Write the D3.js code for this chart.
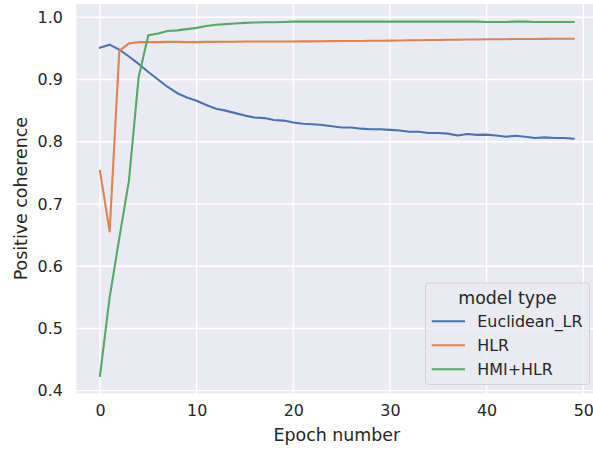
<!DOCTYPE html>
<html>
<head>
<meta charset="utf-8">
<script src="https://cdn.jsdelivr.net/npm/d3@7"></script>
<style>
  body { margin: 0; background: #fff; }
  svg { display: block; font-family: "DejaVu Sans", sans-serif; }
</style>
</head>
<body>
<svg id="chart" width="593" height="450"></svg>
<script>
const epochs = d3.range(0, 50);
const seriesNames = ["Euclidean_LR", "HLR", "HMI+HLR"];
const euclideanLR = [0.951, 0.956, 0.948, 0.937, 0.925, 0.912, 0.900, 0.888, 0.878, 0.871,
  0.866, 0.859, 0.853, 0.850, 0.846, 0.842, 0.839, 0.838, 0.835, 0.834,
  0.831, 0.829, 0.828, 0.827, 0.825, 0.823, 0.823, 0.821, 0.820, 0.820,
  0.819, 0.818, 0.816, 0.816, 0.814, 0.814, 0.813, 0.810, 0.8125, 0.811,
  0.8115, 0.810, 0.808, 0.8095, 0.808, 0.806, 0.807, 0.806, 0.806, 0.805];
const hlr = [0.753, 0.656, 0.946, 0.958, 0.960, 0.960, 0.960, 0.9605, 0.9605, 0.960,
  0.960, 0.9605, 0.9605, 0.9607, 0.9607, 0.961, 0.961, 0.961, 0.961, 0.9612,
  0.9612, 0.9613, 0.9613, 0.9615, 0.9617, 0.9618, 0.962, 0.962, 0.9622, 0.9624,
  0.9625, 0.9627, 0.963, 0.9632, 0.9634, 0.9636, 0.9638, 0.964, 0.9642, 0.9644,
  0.9646, 0.9647, 0.9648, 0.965, 0.9651, 0.9652, 0.9653, 0.9654, 0.9655, 0.9656];
const hmiHlr = [0.424, 0.550, 0.645, 0.738, 0.904, 0.971, 0.974, 0.978, 0.979, 0.981,
  0.983, 0.986, 0.988, 0.989, 0.990, 0.991, 0.9915, 0.992, 0.992, 0.9925,
  0.993, 0.993, 0.993, 0.993, 0.993, 0.993, 0.993, 0.993, 0.993, 0.993,
  0.993, 0.993, 0.993, 0.993, 0.993, 0.993, 0.993, 0.993, 0.993, 0.993,
  0.9925, 0.9925, 0.9925, 0.993, 0.993, 0.9925, 0.9925, 0.9925, 0.9925, 0.9925];
const xTicks = [0, 10, 20, 30, 40, 50];
const yTicks = [0.4, 0.5, 0.6, 0.7, 0.8, 0.9, 1.0];
const colors = ["#4C72B0", "#DD8452", "#55A868"];
const allSeries = [euclideanLR, hlr, hmiHlr];

const svg = d3.select("#chart");
const x = d3.scaleLinear().domain([-2.45, 51.45]).range([76.3, 597.3]);
const y = d3.scaleLinear().domain([0.3956, 1.0215]).range([393.4, 3.9]);

const textColor = "#262626";
const tickFont = "15.9px", labelFont = "17.4px";

// background
svg.append("rect")
  .attr("x", x.range()[0]).attr("y", y.range()[1])
  .attr("width", x.range()[1] - x.range()[0])
  .attr("height", y.range()[0] - y.range()[1])
  .attr("fill", "#EAEAF2");

// grid
const gridG = svg.append("g");
gridG.selectAll("line.v").data(xTicks).join("line")
  .attr("x1", d => x(d)).attr("x2", d => x(d))
  .attr("y1", y.range()[1]).attr("y2", y.range()[0])
  .attr("stroke", "#fff").attr("stroke-width", 1.4);
gridG.selectAll("line.h").data(yTicks).join("line")
  .attr("y1", d => y(d)).attr("y2", d => y(d))
  .attr("x1", x.range()[0]).attr("x2", x.range()[1])
  .attr("stroke", "#fff").attr("stroke-width", 1.4);

// axes (tick labels only)
const xAxis = d3.axisBottom(x).tickValues(xTicks).tickSize(0).tickPadding(11).tickFormat(d3.format("d"));
const yAxis = d3.axisLeft(y).tickValues(yTicks).tickSize(0).tickPadding(13.5).tickFormat(d3.format(".1f"));
const gx = svg.append("g").attr("transform", `translate(0,${y.range()[0]})`).call(xAxis);
const gy = svg.append("g").attr("transform", `translate(${x.range()[0]},0)`).call(yAxis);
[gx, gy].forEach(g => {
  g.select(".domain").remove();
  g.selectAll("text").attr("fill", textColor).style("font-size", tickFont)
    .style("font-family", "DejaVu Sans, sans-serif");
});

// axis labels
svg.append("text")
  .attr("x", (x.range()[0] + x.range()[1]) / 2).attr("y", 441)
  .attr("text-anchor", "middle").attr("fill", textColor)
  .style("font-size", labelFont).text("Epoch number");
svg.append("text")
  .attr("transform", `translate(27,${(y.range()[0] + y.range()[1]) / 2}) rotate(-90)`)
  .attr("text-anchor", "middle").attr("fill", textColor)
  .style("font-size", labelFont).text("Positive coherence");

// lines
const line = d3.line().x((d, i) => x(epochs[i])).y(d => y(d));
svg.append("g").selectAll("path").data(allSeries).join("path")
  .attr("d", d => line(d))
  .attr("fill", "none")
  .attr("stroke", (d, i) => colors[i])
  .attr("stroke-width", 2.1)
  .attr("stroke-linejoin", "round")
  .attr("stroke-linecap", "square");

// legend
const lg = svg.append("g");
lg.append("rect")
  .attr("x", 425.5).attr("y", 283).attr("width", 164).attr("height", 101.5)
  .attr("rx", 3).attr("fill", "#EAEAF2").attr("fill-opacity", 0.8)
  .attr("stroke", "#cccccc").attr("stroke-opacity", 0.8).attr("stroke-width", 1);
lg.append("text")
  .attr("x", 507.5).attr("y", 304).attr("text-anchor", "middle")
  .attr("fill", textColor).style("font-size", labelFont).text("model type");
seriesNames.forEach((name, i) => {
  const cy = 321.3 + i * 24;
  lg.append("line")
    .attr("x1", 431.7).attr("x2", 465).attr("y1", cy).attr("y2", cy)
    .attr("stroke", colors[i]).attr("stroke-width", 2.1);
  lg.append("text")
    .attr("x", 477.3).attr("y", cy + 5.8)
    .attr("fill", textColor).style("font-size", tickFont).text(name);
});
</script>
</body>
</html>
